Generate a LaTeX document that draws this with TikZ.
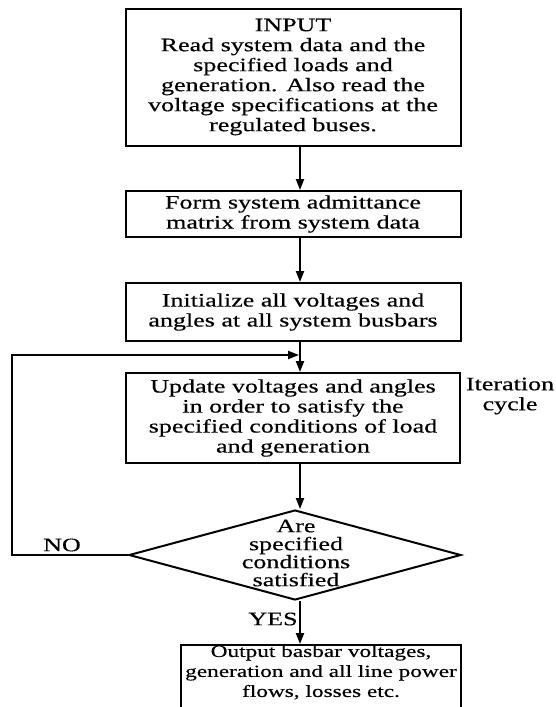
\documentclass[tikz,border=0pt]{standalone}
\usepackage{fontspec}
\setmainfont[FakeStretch=1.37,FakeBold=0.4]{Liberation Serif}
\usetikzlibrary{arrows.meta,shapes.geometric,calc}
\begin{document}
\begin{tikzpicture}[x=1pt,y=-1pt,
  every node/.style={font=\fontsize{19}{20}\selectfont, align=center},
  procbox/.style={draw, line width=2pt, inner sep=0pt},
  conn/.style={line width=2pt, -{Triangle[length=11pt,width=8pt]}},
  plain/.style={line width=2pt}]
\useasboundingbox (0,0) rectangle (556,707);
\clip (0,0) rectangle (556,707);
\node[procbox, minimum width=335, minimum height=137] (b1) at (293,77)
  {INPUT\\Read system data and the\\specified loads and\\generation. Also read the\\voltage specifications at the\\regulated buses.};
\node[procbox, minimum width=335, minimum height=46] (b2) at (293,214)
  {Form system admittance\\matrix from system data};
\node[procbox, minimum width=335, minimum height=58] (b3) at (293,312)
  {Initialize all voltages and\\angles at all system busbars};
\node[procbox, minimum width=334, minimum height=90] (b4) at (293,418)
  {Update voltages and angles\\in order to satisfy the\\specified conditions of load\\and generation};
\node[diamond, draw, line width=2pt, minimum width=332, minimum height=90, inner sep=0pt] (dec) at (295,555) {};
\node[font=\fontsize{19}{18}\selectfont] (dectext) at (296,553) {Are\\specified\\conditions\\satisfied};
\node[procbox, minimum width=280, minimum height=80, font=\fontsize{17}{20}\selectfont] (b5) at (321,685)
  {Output basbar voltages,\\generation and all line power\\flows, losses etc.\\[8pt]};
\node (iter) at (510,396) {Iteration\\cycle};
\node (no) at (62,545) {NO};
\node (yes) at (273,619) {YES};
\coordinate (loopA) at (12,555);
\coordinate (loopB) at (12,355);
\coordinate (join) at (300,355);
\draw[conn] (b1.south -| join) -- (b2.north -| join);
\draw[conn] (b2.south -| join) -- (b3.north -| join);
\draw[conn] (b3.south -| join) -- (b4.north -| join);
\draw[conn] (b4.south -| join) -- (dec.north -| join);
\draw[conn] (dec.south -| join) -- (b5.north -| join);
\draw[conn, shorten >=1pt] (dec.west) -- (loopA) -- (loopB) -- (join);
\end{tikzpicture}
\end{document}
